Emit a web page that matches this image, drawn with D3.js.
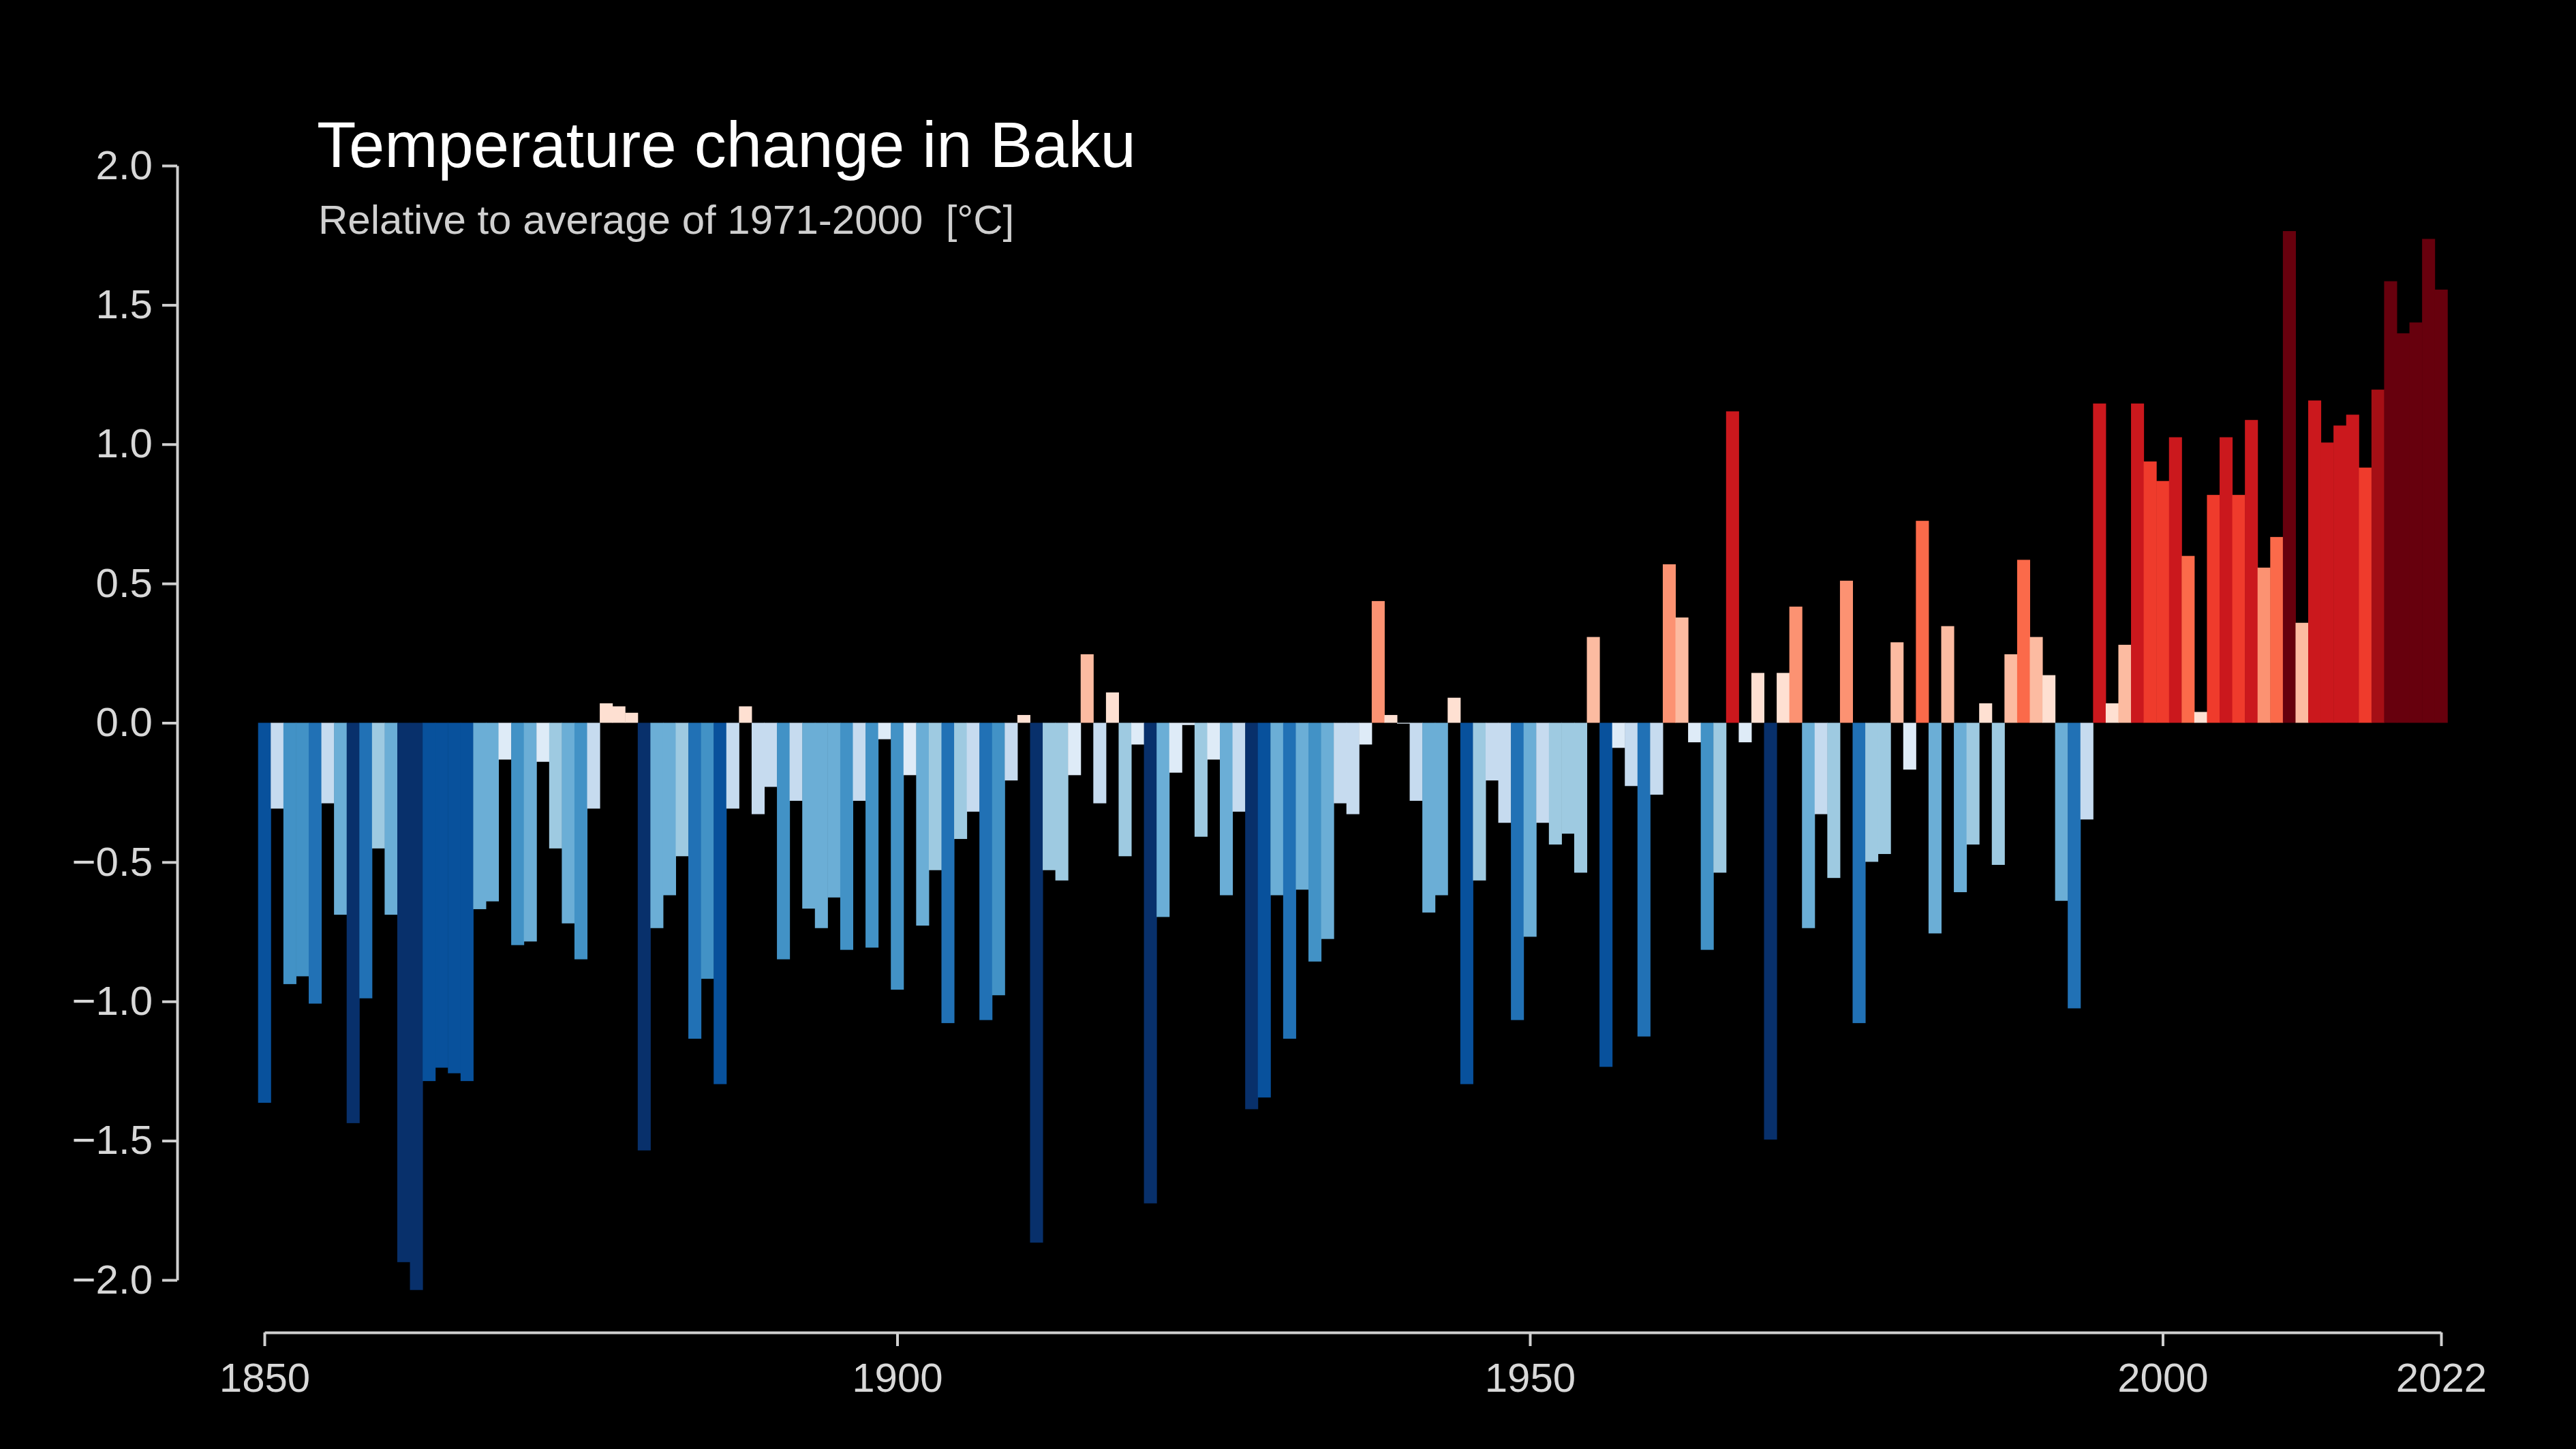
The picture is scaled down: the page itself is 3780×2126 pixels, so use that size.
<!DOCTYPE html>
<html>
<head>
<meta charset="utf-8">
<script src="https://cdn.jsdelivr.net/npm/d3@7"></script>
<style>
  html, body { margin: 0; padding: 0; background: #000; }
  svg { display: block; }
</style>
</head>
<body>
<svg id="chart" width="3780" height="2126"></svg>
<script>
// 연도별 온도 편차 (1971-2000 평균 대비)
var firstYear = 1850;
var lastYear = 2022;
var anomalies = [
  -1.364, -0.308, -0.938, -0.910, -1.008, -0.289, -0.689, -1.437, -0.989, -0.451, // 1850
  -0.689, -1.936, -2.036, -1.286, -1.238, -1.258, -1.286, -0.669, -0.641, -0.132, // 1860
  -0.798, -0.785, -0.140, -0.451, -0.720, -0.849, -0.308, 0.070, 0.059, 0.036,    // 1870
  -1.535, -0.737, -0.619, -0.479, -1.134, -0.919, -1.297, -0.308, 0.059, -0.328,  // 1880
  -0.230, -0.849, -0.280, -0.667, -0.737, -0.627, -0.815, -0.280, -0.807, -0.059, // 1890
  -0.958, -0.188, -0.728, -0.529, -1.078, -0.417, -0.319, -1.067, -0.978, -0.207, // 1900
  0.028, -1.866, -0.529, -0.566, -0.188, 0.246, -0.289, 0.109, -0.479, -0.078,    // 1910
  -1.725, -0.697, -0.179, -0.008, -0.409, -0.132, -0.619, -0.319, -1.387, -1.345, // 1920
  -0.619, -1.134, -0.599, -0.857, -0.776, -0.289, -0.328, -0.078, 0.437, 0.028,   // 1930
  -0.003, -0.280, -0.681, -0.619, 0.090, -1.297, -0.566, -0.207, -0.359, -1.067,  // 1940
  -0.768, -0.359, -0.437, -0.398, -0.538, 0.308, -1.235, -0.090, -0.227, -1.126,  // 1950
  -0.258, 0.569, 0.378, -0.070, -0.815, -0.538, 1.118, -0.070, 0.179, -1.496,     // 1960
  0.179, 0.417, -0.737, -0.328, -0.557, 0.510, -1.078, -0.499, -0.471, 0.289,     // 1970
  -0.168, 0.725, -0.756, 0.347, -0.608, -0.437, 0.070, -0.510, 0.246, 0.585,      // 1980
  0.308, 0.171, -0.639, -1.025, -0.347, 1.146, 0.070, 0.280, 1.146, 0.938,        // 1990
  0.868, 1.025, 0.599, 0.039, 0.818, 1.025, 0.818, 1.087, 0.557, 0.667,           // 2000
  1.765, 0.359, 1.157, 1.006, 1.067, 1.106, 0.916, 1.196, 1.585, 1.398,           // 2010
  1.437, 1.737, 1.555                                                              // 2020
];
var yTicks = [-2.0, -1.5, -1.0, -0.5, 0.0, 0.5, 1.0, 1.5, 2.0];
var xTicks = [1850, 1900, 1950, 2000, 2022];
var stripeColors = [
  "#08306b", "#08519c", "#2171b5", "#4292c6", "#6baed6", "#9ecae1", "#c6dbef", "#deebf7",
  "#fee0d2", "#fcbba1", "#fc9272", "#fb6a4a", "#ef3b2c", "#cb181d", "#a50f15", "#67000d"
];
var colorBreaks = [-1.37, -1.18, -0.985, -0.79, -0.585, -0.39, -0.195, 0,
  0.195, 0.39, 0.585, 0.78, 0.975, 1.17, 1.37];

var records = anomalies.map(function(v, i) { return { year: firstYear + i, value: v }; });

var svg = d3.select("#chart");
var fontFamily = "'Liberation Sans', Arial, sans-serif";

var x = d3.scaleLinear().domain([firstYear, lastYear]).range([388, 3582]);
var y = d3.scaleLinear().domain([-2, 2]).range([1878, 243]);
var color = d3.scaleThreshold().domain(colorBreaks).range(stripeColors);
var barWidth = x(firstYear + 1) - x(firstYear);

// 막대
svg.append("g").selectAll("rect")
  .data(records)
  .enter().append("rect")
  .attr("x", function(d) { return x(d.year) - barWidth / 2; })
  .attr("width", barWidth + 0.5)
  .attr("y", function(d) { return y(Math.max(0, d.value)); })
  .attr("height", function(d) { return Math.abs(y(d.value) - y(0)); })
  .attr("fill", function(d) { return color(d.value); });

// y 축
var yAxis = svg.append("g")
  .attr("transform", "translate(260,0)")
  .call(d3.axisLeft(y).tickValues(yTicks).tickFormat(d3.format(".1f"))
    .tickSize(22).tickSizeOuter(0).tickPadding(14));

// x 축
var xAxis = svg.append("g")
  .attr("transform", "translate(0,1955)")
  .call(d3.axisBottom(x).tickValues(xTicks).tickFormat(d3.format("d"))
    .tickSize(20).tickSizeOuter(0).tickPadding(10));

[yAxis, xAxis].forEach(function(ax) {
  ax.selectAll("path, line").attr("stroke", "#d0d0d0").attr("stroke-width", 4);
  ax.selectAll("text").attr("fill", "#d8d8d8")
    .style("font-family", fontFamily).style("font-size", "60px");
});
xAxis.selectAll("text").attr("dy", "0.95em");

// 제목
svg.append("text")
  .attr("x", 465).attr("y", 245)
  .attr("fill", "#ffffff")
  .style("font-family", fontFamily).style("font-size", "94px")
  .text("Temperature change in Baku");

svg.append("text")
  .attr("x", 467).attr("y", 343)
  .attr("fill", "#cfcfcf")
  .style("font-family", fontFamily).style("font-size", "60px")
  .style("white-space", "pre")
  .text("Relative to average of 1971-2000  [°C]");
</script>
</body>
</html>
